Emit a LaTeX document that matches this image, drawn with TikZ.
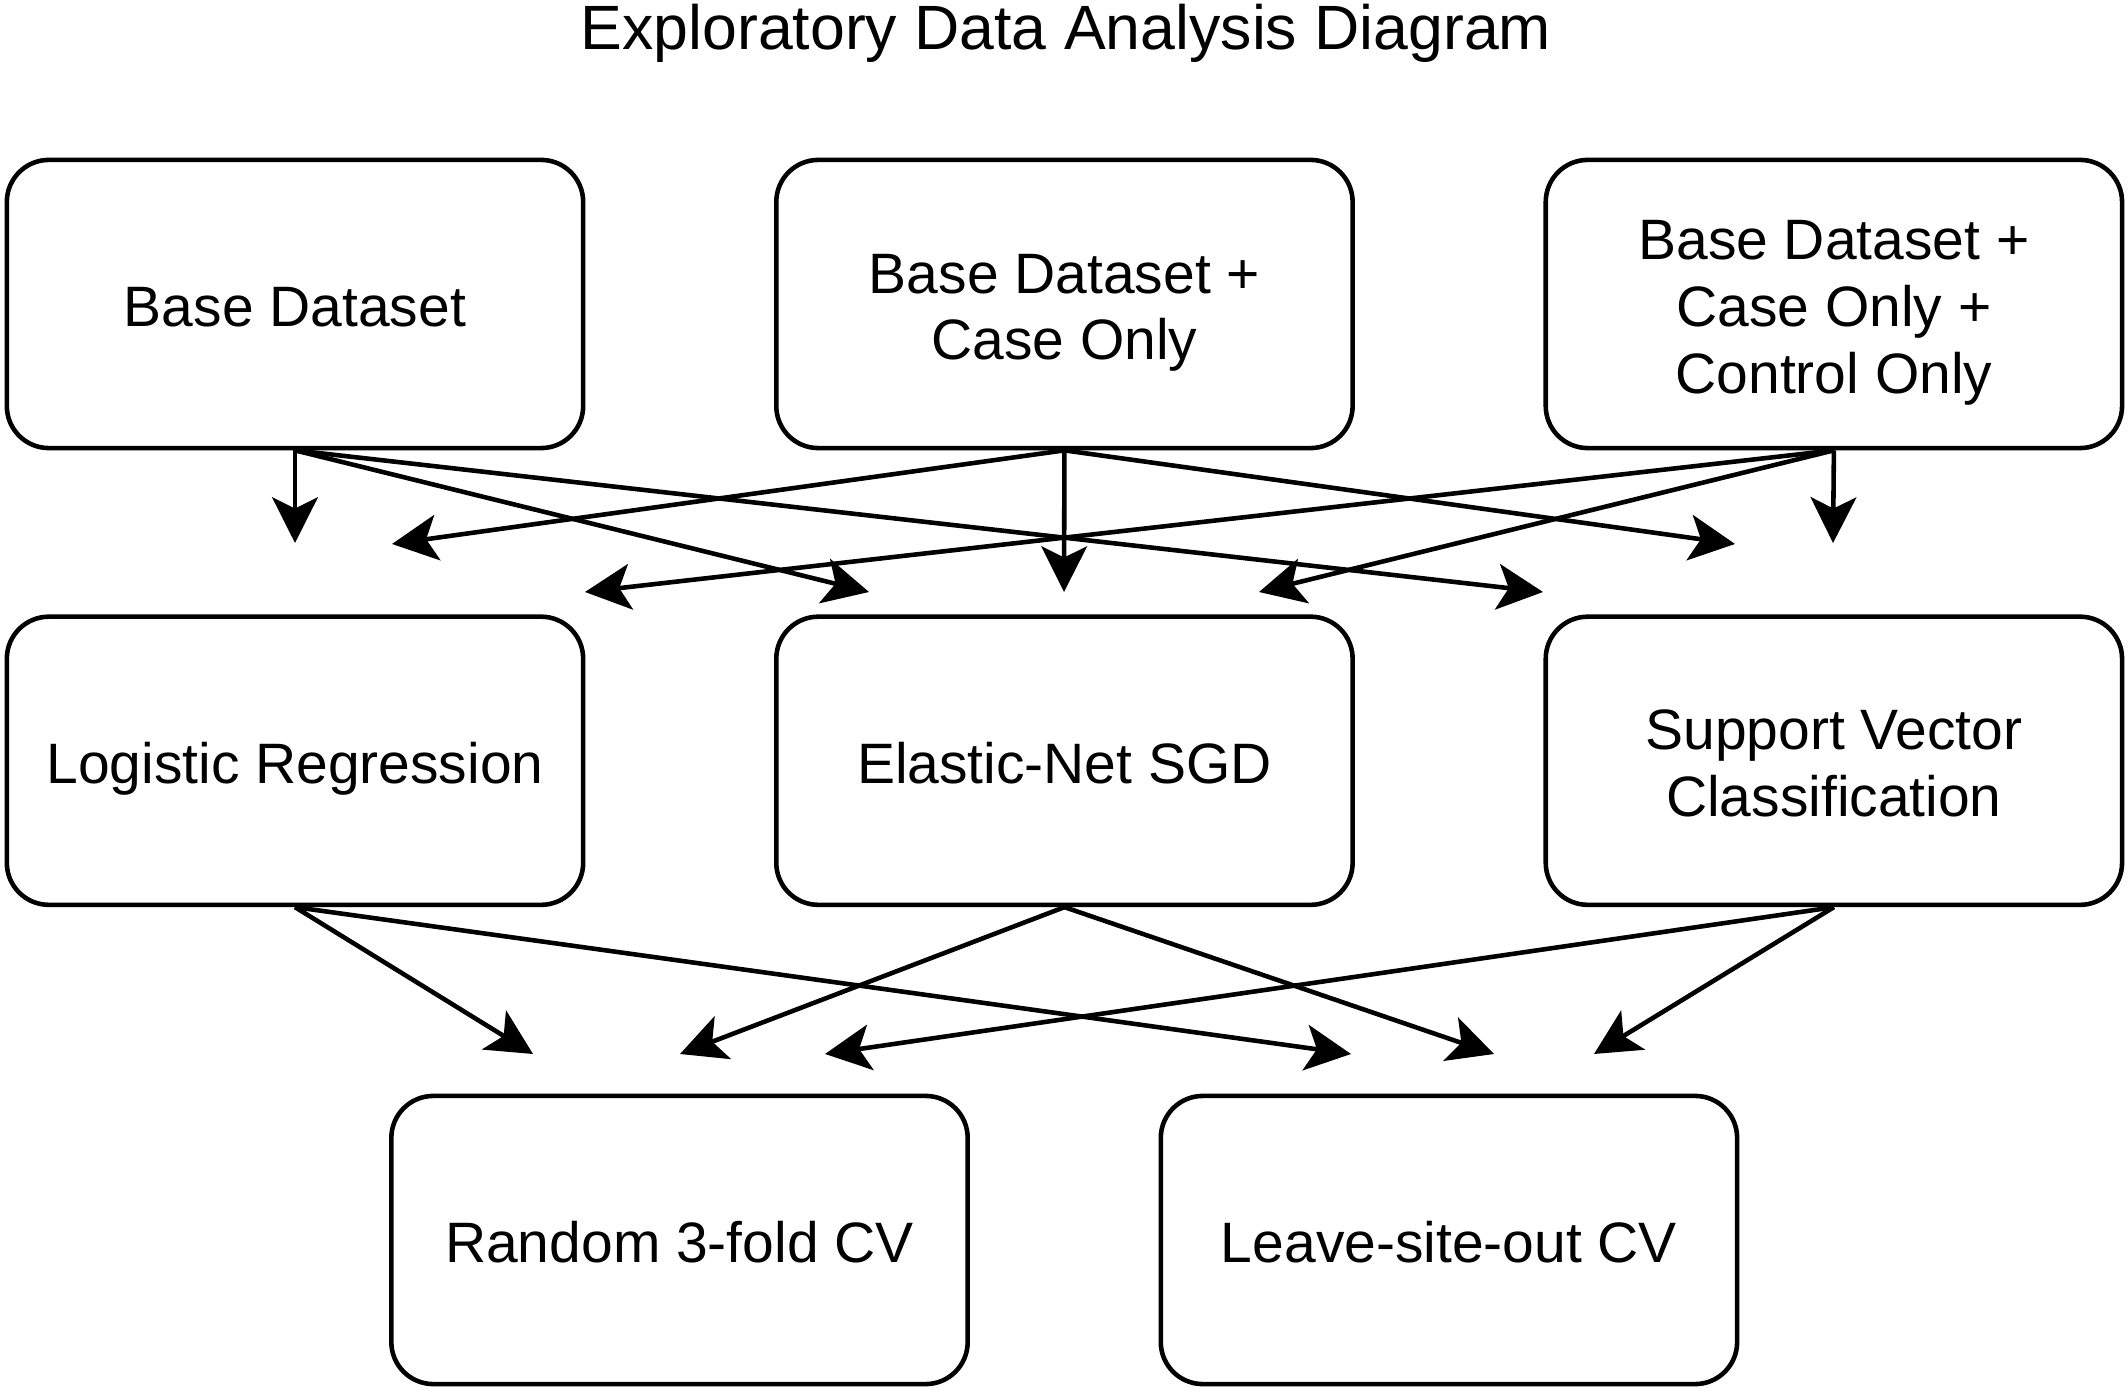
\documentclass[tikz,border=0pt]{standalone}
\usepackage{fontspec}
\setmainfont{Liberation Sans}
\usetikzlibrary{arrows.meta, positioning}

\newcommand{\boxfont}{\fontsize{16.2}{19}\selectfont}
\newcommand{\titlefont}{\fontsize{17.8}{21}\selectfont}
\newcommand{\topstrut}{\rule{0pt}{16.4pt}}
\newcommand{\botstrut}{\rule[-3.6pt]{0pt}{3.6pt}}

\begin{document}
\begin{tikzpicture}[x=0.01cm,y=-0.01cm,node distance=4.565cm and 7.69cm,on grid,
      >={Stealth[length=13pt,width=13pt,inset=3.2pt]},line width=1.3pt,
      box/.style={draw,rounded corners=0.42cm,minimum width=5.76cm,minimum height=2.88cm,
        align=center,font=\boxfont,execute at begin node=\topstrut,execute at end node=\botstrut}]
      \useasboundingbox (0,0) rectangle (2128,1392);
      \node[font=\titlefont,anchor=base] (title) at (1066,50) {Exploratory Data Analysis Diagram};
      % datasets
      \node[box] (base) at (295,304) {Base Dataset};
      \node[box] (basecase) [right=of base] {\topstrut Base Dataset +\\Case Only\botstrut};
      \node[box] (basectrl) [right=of basecase] {\topstrut Base Dataset +\\Case Only +\\Control Only\botstrut};
      % models
      \node[box] (logreg) [below=of base] {Logistic Regression};
      \node[box] (enet) [below=of basecase] {Elastic-Net SGD};
      \node[box] (svc) [below=of basectrl] {\topstrut Support Vector\\Classification\botstrut};
      % validation
      \node[box] (rcv) at (679.5,1240) {Random 3-fold CV};
      \node[box] (lso) [right=of rcv] {Leave-site-out CV};
      % arrow ends
      \coordinate (lr_1) at (295,543);  \coordinate (lr_2) at (392,544);  \coordinate (lr_3) at (585,592);
      \coordinate (en_1) at (869,592);  \coordinate (en_2) at (1064,592); \coordinate (en_3) at (1259,592);
      \coordinate (sv_1) at (1543,592); \coordinate (sv_2) at (1735,544); \coordinate (sv_3) at (1833,543);
      \coordinate (rc_1) at (533,1054); \coordinate (rc_2) at (680,1054); \coordinate (rc_3) at (825,1054);
      \coordinate (ls_1) at (1351,1054); \coordinate (ls_2) at (1494,1054); \coordinate (ls_3) at (1594,1054);
      \path[->]
      (base.south) edge (lr_1) edge (en_1) edge (sv_1)
      (basecase.south) edge (lr_2) edge (en_2) edge (sv_2)
      (basectrl.south) edge (lr_3) edge (en_3) edge (sv_3)
      (logreg.south) edge (rc_1) edge (ls_1)
      (enet.south) edge (rc_2) edge (ls_2)
      (svc.south) edge (rc_3) edge (ls_3);
    \end{tikzpicture}
\end{document}
